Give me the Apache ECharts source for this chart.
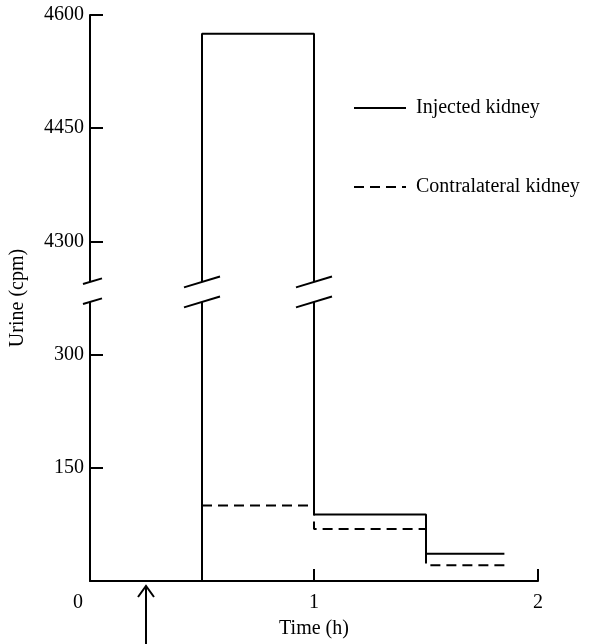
<!DOCTYPE html>
<html>
<head>
<meta charset="utf-8">
<script src="https://cdn.jsdelivr.net/npm/echarts@6/dist/echarts.min.js"></script>
<style>
  html, body { margin: 0; padding: 0; background: #fff; }
  #chart { width: 605px; height: 644px; }
</style>
</head>
<body>
<div id="chart"></div>
<script>
// collection periods (h) and urine counts (cpm)
var injectedEdges = [0.5, 1, 1.5, 1.85];
var injectedValues = [4575, 88, 36];
var contraEdges = [0.5, 1, 1.5, 1.85];
var contraValues = [100, 69, 21];
var injectionTime = 0.25;
var yTickLabels = ['', '150', '300', '4300', '4450', '4600'];
var xTickLabels = ['0', '1', '2'];

// broken y scale: 4300 is drawn where 450 would be
var breakShift = 3850;
var breakAt = 383;
var brokenAt = [0, 0.5, 1]; // x positions carrying a break mark

function squash(v) {
  return v > 1000 ? v - breakShift : v;
}

function stepPoints(edges, values, fromZero) {
  var pts = [];
  if (fromZero) pts.push([edges[0], 0]);
  for (var i = 0; i < values.length; i++) {
    pts.push([edges[i], squash(values[i])]);
    pts.push([edges[i + 1], squash(values[i])]);
  }
  return pts;
}

var font = '"Liberation Serif", "DejaVu Serif", serif';
var chart = echarts.init(document.getElementById('chart'));

var option = {
  animation: false,
  backgroundColor: '#fff',
  textStyle: { fontFamily: font, color: '#000' },
  grid: { left: 89, right: 67, top: 15, bottom: 61 },
  legend: {
    orient: 'vertical',
    left: 353,
    top: 98,
    padding: 0,
    itemWidth: 52,
    itemHeight: 14,
    itemGap: 59,
    itemStyle: { opacity: 0 },
    textStyle: { fontFamily: font, fontSize: 20, color: '#000', padding: [0, 0, 0, 5] },
    data: ['Injected kidney', 'Contralateral kidney']
  },
  xAxis: {
    type: 'value',
    min: 0,
    max: 2,
    interval: 1,
    name: 'Time (h)',
    nameLocation: 'middle',
    nameGap: 38,
    nameTextStyle: { fontFamily: font, fontSize: 20, color: '#000' },
    axisLine: { lineStyle: { color: '#000', width: 2 } },
    axisTick: { inside: true, length: 12, lineStyle: { color: '#000', width: 2 } },
    splitLine: { show: false },
    axisLabel: {
      fontFamily: font,
      fontSize: 20,
      color: '#000',
      margin: 12,
      formatter: function (v) {
        var s = xTickLabels[Math.round(v)];
        return v === 0 ? '{z|' + s + '}' : s;
      },
      rich: { z: { fontFamily: font, fontSize: 20, color: '#000', padding: [0, 24, 0, 0] } }
    }
  },
  yAxis: {
    type: 'value',
    min: 0,
    max: 750,
    interval: 150,
    name: 'Urine (cpm)',
    nameLocation: 'middle',
    nameGap: 62,
    nameTextStyle: { fontFamily: font, fontSize: 20, color: '#000' },
    axisLine: { show: true, lineStyle: { color: '#000', width: 2 } },
    axisTick: { show: true, inside: true, length: 13, lineStyle: { color: '#000', width: 2 } },
    splitLine: { show: false },
    axisLabel: {
      fontFamily: font,
      fontSize: 20,
      color: '#000',
      margin: 6,
      formatter: function (v) {
        return yTickLabels[Math.round(v / 150)];
      }
    }
  },
  series: [
    {
      name: 'Injected kidney',
      type: 'line',
      symbol: 'none',
      lineStyle: { color: '#000', width: 2 },
      itemStyle: { color: '#000' },
      data: stepPoints(injectedEdges, injectedValues, true)
    },
    {
      name: 'Contralateral kidney',
      type: 'line',
      symbol: 'none',
      lineStyle: { color: '#000', width: 2, type: [10, 6] },
      itemStyle: { color: '#000' },
      data: stepPoints(contraEdges, contraValues, false)
    }
  ]
};

chart.setOption(option);

// break marks and the injection arrow
var gfx = [];
brokenAt.forEach(function (x) {
  var p = chart.convertToPixel({ gridIndex: 0 }, [x, breakAt]);
  var x0 = x === 0 ? -7 : -18;
  var x1 = x === 0 ? 12 : 18;
  var s = 0.3, g = 10;
  var ul = [p[0] + x0, p[1] - g - x0 * s], ur = [p[0] + x1, p[1] - g - x1 * s];
  var ll = [p[0] + x0, p[1] + g - x0 * s], lr = [p[0] + x1, p[1] + g - x1 * s];
  gfx.push({ type: 'polygon', shape: { points: [ul, ur, lr, ll] }, style: { fill: '#fff' }, z: 10 });
  gfx.push({ type: 'line', shape: { x1: ul[0], y1: ul[1], x2: ur[0], y2: ur[1] }, style: { stroke: '#000', lineWidth: 2 }, z: 11 });
  gfx.push({ type: 'line', shape: { x1: ll[0], y1: ll[1], x2: lr[0], y2: lr[1] }, style: { stroke: '#000', lineWidth: 2 }, z: 11 });
});

var a = chart.convertToPixel({ gridIndex: 0 }, [injectionTime, 0]);
gfx.push({ type: 'line', shape: { x1: a[0], y1: a[1] + 5, x2: a[0], y2: 644 }, style: { stroke: '#000', lineWidth: 2 }, z: 11 });
gfx.push({
  type: 'polyline',
  shape: { points: [[a[0] - 8, a[1] + 16], [a[0], a[1] + 5], [a[0] + 8, a[1] + 16]] },
  style: { stroke: '#000', lineWidth: 2, fill: null },
  z: 11
});

chart.setOption({ graphic: gfx });
</script>
</body>
</html>
